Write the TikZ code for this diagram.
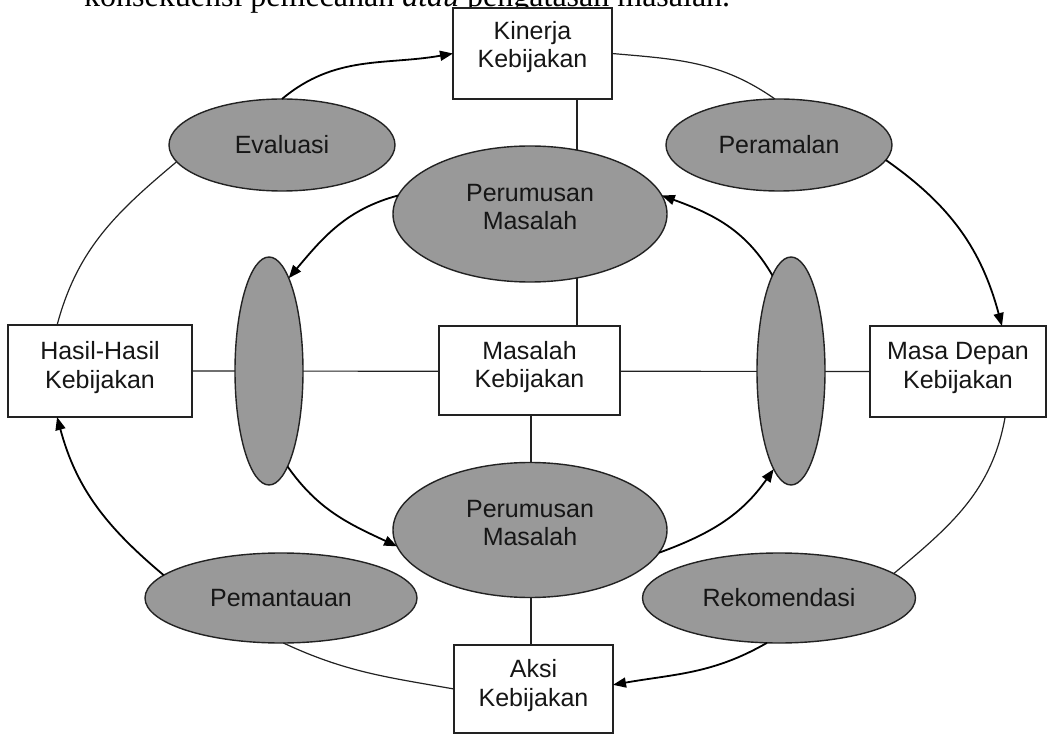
\documentclass[tikz,border=0pt]{standalone}
\usepackage{fontspec}
\setmainfont{Liberation Sans}
\newfontfamily\bodyserif{Liberation Serif}
\usetikzlibrary{shapes.geometric,arrows.meta}
\pgfdeclarelayer{bg}
\pgfsetlayers{bg,main}
\definecolor{ovalgray}{HTML}{999999}
\definecolor{inkline}{HTML}{222222}
\definecolor{labeltext}{HTML}{161616}
\tikzset{
  stagebox/.style={draw=inkline, line width=1.8pt, fill=white, rectangle,
    inner sep=0pt, outer sep=0pt, align=center, text=labeltext,
    text depth=12.5pt, font=\fontsize{25}{28.5}\selectfont},
  oval/.style={draw=inkline, line width=1.4pt, fill=ovalgray, ellipse,
    inner sep=0pt, outer sep=0pt, align=center, text=labeltext,
    font=\fontsize{25}{28.5}\selectfont},
  twoline/.style={text depth=14pt},
  link/.style={draw=inkline, line width=1.2pt},
  flow/.style={draw=black, line width=1.8pt,
    -{Triangle[length=13pt,width=10pt]}},
}
\begin{document}
\begin{tikzpicture}[x=1pt,y=1pt]
\useasboundingbox (0,0) rectangle (1050,-735);

% running text of the page above the figure
\node[anchor=base west, inner sep=0pt, font=\bodyserif\fontsize{32}{36}\selectfont]
  (runtext) at (84,-7) {konsekuensi pemecahan \textit{atau} pengatasan masalah.};

% outer ring: boxes
\node[stagebox, text depth=18pt, minimum width=159pt, minimum height=91pt] (kin) at (532.5,-53.5) {Kinerja\\Kebijakan};
\node[stagebox, minimum width=184pt, minimum height=92pt] (hasil) at (100,-371) {Hasil-Hasil\\Kebijakan};
\node[stagebox, minimum width=176pt, minimum height=91pt] (masa) at (958,-371.5) {Masa Depan\\Kebijakan};
\node[stagebox, minimum width=159pt, minimum height=88pt] (aksi) at (533.5,-689) {Aksi\\Kebijakan};
\node[stagebox, minimum width=181pt, minimum height=89pt] (mas) at (529.5,-370.5) {Masalah\\Kebijakan};

% outer ring: procedures
\node[oval, minimum width=226pt, minimum height=92pt] (eva) at (282,-145) {Evaluasi};
\node[oval, minimum width=226pt, minimum height=92pt] (per) at (779,-145) {Peramalan};
\node[oval, minimum width=272pt, minimum height=90pt] (pem) at (281,-598) {Pemantauan};
\node[oval, minimum width=273pt, minimum height=90pt] (rek) at (779,-598) {Rekomendasi};

% inner ring
\node[oval, twoline, minimum width=274pt, minimum height=136pt] (tp) at (530,-214) {Perumusan\\Masalah};
\node[oval, twoline, minimum width=274pt, minimum height=135pt] (bp) at (530,-530) {Perumusan\\Masalah};
\node[oval, minimum width=68pt, minimum height=228pt] (lv) at (269,-371) {};
\node[oval, minimum width=68pt, minimum height=228pt] (rv) at (791,-371) {};

% guides for the vertical links
\coordinate (upx) at (577,0);
\coordinate (lox) at (531,0);

% straight links behind the shapes
\begin{pgfonlayer}{bg}
  \draw[link] (hasil.center) -- (masa.center);
  \draw[link] (kin.center -| upx) -- (mas.center -| upx);
  \draw[link] (mas.center -| lox) -- (aksi.center -| lox);
\end{pgfonlayer}

% outer cycle
\draw[flow] (eva.north) to[out=40,in=190] (kin.west);
\draw[link] (kin.east) to[out=-5,in=145] (per.95);
\draw[flow] (per.-8) to[out=-35,in=105] (masa.46);
\draw[link] (masa.-44) to[out=-100,in=40] (rek.12);
\draw[flow] (rek.-105) to[out=-150,in=10] (aksi.3);
\draw[link] (pem.-87) to[out=-25,in=170] (aksi.west);
\draw[flow] (pem.169) to[out=140,in=-75] (hasil.-133);
\draw[link] (hasil.133) to[out=75,in=-140] (eva.189);

% inner cycle
\draw[flow] (tp.172) to[out=195,in=50] (lv.78);
\draw[flow] (lv.-79) to[out=-55,in=155] (bp.187);
\draw[flow] (bp.-10) to[out=20,in=-125] (rv.-100);
\draw[flow] (rv.101) to[out=120,in=-20] (tp.8);
\end{tikzpicture}
\end{document}
